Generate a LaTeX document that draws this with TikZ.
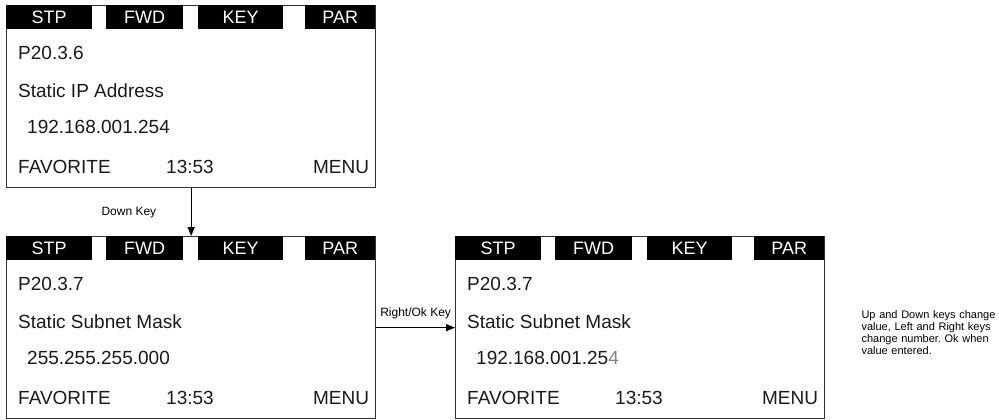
\documentclass[tikz,border=0pt]{standalone}
\usepackage{xcolor}
\usepackage{fontspec}
\setmainfont{Liberation Sans}
\usepackage{tikz}
\usetikzlibrary{arrows.meta, positioning}
\frenchspacing

% one display screen: name, x, y, code, title, value
\newcommand{\lcdscreen}[6]{%
  \node [screen] (#1) at (#2,#3) {};
  \foreach \off/\tabw/\lbl in {0/86/STP, 100/77/FWD, 192/85/KEY, 299/70/PAR}
    \node [tab, minimum width=\tabw pt] (#1\lbl) at ([shift={(\off,0)}]#1.north west) {\lbl};
  \node [lcd] (#1code) at ([shift={(12,48)}]#1.north west) {#4};
  \node [lcd] (#1title) at ([shift={(12,86)}]#1.north west) {#5};
  \node [lcd] (#1value) at ([shift={(21,122)}]#1.north west) {#6};
  \node [lcd] (#1fav) at ([shift={(12,162)}]#1.north west) {FAVORITE};
  \node [lcd] (#1time) at ([shift={(160,162)}]#1.north west) {13:53};
  \node [lcd, anchor=east] (#1menu) at ([shift={(-7,162)}]#1.north east) {MENU};
}

\begin{document}
\begin{tikzpicture}[x=1pt, y=-1pt]
        % Styles
        \tikzstyle{screen} = [draw=black!80, line width=1.3pt, rectangle, anchor=north west, minimum width=369pt, minimum height=182pt, inner sep=0]
        \tikzstyle{tab} = [fill=black, text=white, anchor=north west, minimum height=24pt, inner sep=0, font=\fontsize{18}{20}\selectfont]
        \tikzstyle{lcd} = [anchor=west, inner sep=0, text=black!90, font=\fontsize{19}{22}\selectfont]
        \tikzstyle{arrow} = [->, >={Triangle[length=9pt, width=7pt]}, line width=1.1pt]
        \tikzstyle{keylabel} = [font=\fontsize{12}{14}\selectfont, text=black]

        \useasboundingbox (0,0) rectangle (999,420);

        % Screens
        \lcdscreen{ip}{6}{5}{P20.3.6}{Static IP Address}{192.168.001.254}
        \lcdscreen{mask}{6}{236}{P20.3.7}{Static Subnet Mask}{255.255.255.000}
        \lcdscreen{edit}{455}{236}{P20.3.7}{Static Subnet Mask}{192.168.001.25\textcolor{gray}{4}}

        % Arrows
        \draw [arrow] (ip.south) -- (mask.north) node [keylabel, midway, left=31pt] {Down Key};
        \draw [arrow] (mask.east) -- (edit.west) node [keylabel, midway, above=5pt] {Right/Ok Key};

        % Annotation
        \node [keylabel, anchor=west, text width=140pt, align=left, font=\fontsize{11}{12}\selectfont] (note) at (858,333)
          {Up and Down keys change value, Left and Right keys change number. Ok when value entered.};
    \end{tikzpicture}
\end{document}
